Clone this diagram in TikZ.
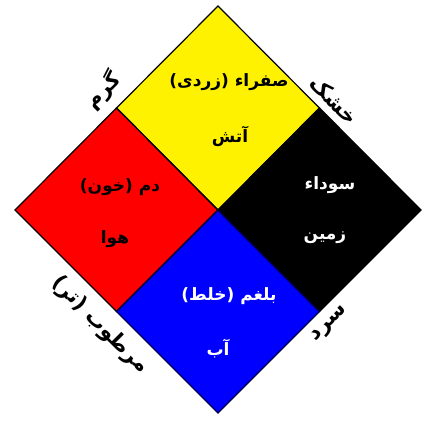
\documentclass[tikz,border=0pt]{standalone}
\usepackage{fontspec}
\newfontfamily\fa[Script=Arabic]{DejaVu Sans}
\TeXXeTstate=1
\begin{document}
\begin{tikzpicture}[x=1pt,y=-1pt,
  sq/.style={draw=black,line width=1.2pt,line join=miter},
  lbl/.style={font=\fa\bfseries\fontsize{17}{20}\selectfont,inner sep=0pt},
  side/.style={font=\fa\bfseries\fontsize{21}{24}\selectfont,inner sep=0pt}]
\useasboundingbox (0,0) rectangle (440,423);
\coordinate (T) at (218,6);
\coordinate (L) at (15,210);
\coordinate (R) at (421,210);
\coordinate (B) at (218,413);
\coordinate (C) at (218,210);
\coordinate (TL) at (116.5,108);
\coordinate (TR) at (319.5,108);
\coordinate (BL) at (116.5,311.5);
\coordinate (BR) at (319.5,311.5);
\fill[yellow] (T) -- (TR) -- (C) -- (TL) -- cycle;
\fill[red] (TL) -- (C) -- (BL) -- (L) -- cycle;
\fill[black] (TR) -- (R) -- (BR) -- (C) -- cycle;
\fill[blue] (C) -- (BR) -- (B) -- (BL) -- cycle;
\draw[sq] (T) -- (TR) -- (C) -- (TL) -- cycle;
\draw[sq] (TL) -- (C) -- (BL) -- (L) -- cycle;
\draw[sq] (TR) -- (R) -- (BR) -- (C) -- cycle;
\draw[sq,draw=black!70!blue] (C) -- (BR) -- (B) -- (BL) -- cycle;
\node[lbl] (y1) at (229,82) {\beginR صفراء (زردی)\endR};
\node[lbl] (y2) at (230,136) {\beginR آتش\endR};
\node[lbl] (r1) at (120,187) {\beginR دم (خون)\endR};
\node[lbl] (r2) at (115,239) {\beginR هوا\endR};
\node[lbl,text=white] (k1) at (330,185) {\beginR سوداء\endR};
\node[lbl,text=white] (k2) at (325,238) {\beginR زمین\endR};
\node[lbl,text=white] (b1) at (229,296) {\beginR بلغم (خلط)\endR};
\node[lbl,text=white] (b2) at (218,349) {\beginR آب\endR};
\node[side,rotate=45] (s1) at (103,90) {\beginR گرم\endR};
\node[side,rotate=-45] (s2) at (334,100) {\beginR خشک\endR};
\node[side,rotate=-45] (s3) at (100,325) {\beginR مرطوب (تر)\endR};
\node[side,rotate=45] (s4) at (330,324) {\beginR سرد\endR};
\end{tikzpicture}
\end{document}
